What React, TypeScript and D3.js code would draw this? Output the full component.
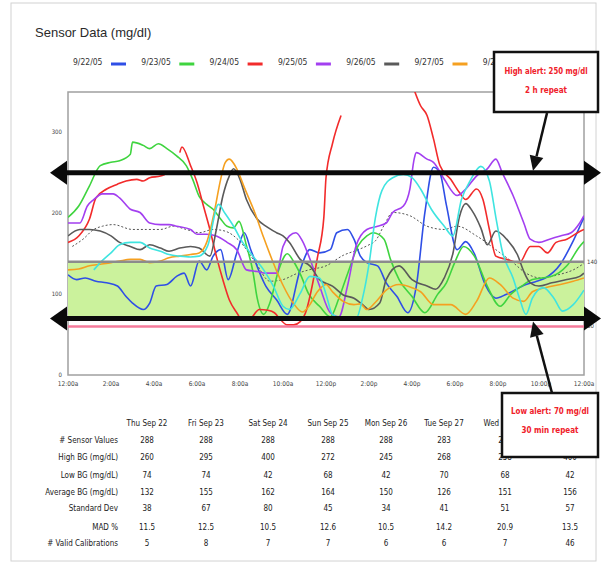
import React, { useRef, useEffect } from "react";
import * as d3 from "d3";

type Pt = [number, number | null];

// legend / series
const dates = ["9/22/05", "9/23/05", "9/24/05", "9/25/05", "9/26/05", "9/27/05", "9/28/05"];
const colors = ["#2f4fe6", "#3fd43f", "#f22b2b", "#a33ff0", "#5a5a5a", "#f5a020", "#3fe4e0"];

const sep22: Pt[] = [[0,124],[0.4,118],[0.8,120],[1.3,116],[1.8,114],[2.3,110],[2.7,97],[3.0,89],[3.5,81],[3.8,89],[4.1,110],[4.6,112],[5.05,122],[5.4,126],[5.7,110],[6.1,141],[6.45,130],[6.75,147],[7.1,155],[7.45,118],[7.85,151],[8.2,176],[8.5,155],[9.2,110],[9.7,93],[10.2,75],[10.8,130],[11.25,155],[11.7,151],[12.2,155],[12.5,176],[13,180],[13.3,168],[13.6,147],[13.9,139],[14.4,135],[14.8,114],[15.3,97],[15.8,77],[16.2,110],[16.6,201],[17,257],[17.3,250],[17.6,210],[18.1,155],[18.5,165],[18.9,150],[19.4,112],[19.9,95],[20.4,100],[21.3,112],[21.8,116],[22.2,120],[22.9,137],[23.5,166],[24,195]];
const sep23: Pt[] = [[0,195],[0.5,209],[1,234],[1.5,259],[2,263],[2.4,265],[2.9,273],[3.0,288],[3.5,284],[3.8,280],[4.2,286],[4.6,280],[5.05,271],[5.5,259],[5.8,242],[6.1,221],[6.45,211],[6.75,205],[7.1,193],[7.4,184],[7.7,182],[7.95,190],[8.3,160],[8.6,128],[8.8,95],[9.1,75],[9.4,90],[9.8,130],[10.2,150],[10.5,140],[10.8,125],[11.2,100],[11.7,85],[12.2,72],[12.6,95],[13.0,125],[13.5,160],[13.9,172],[14.2,176],[14.7,168],[15,143],[15.4,118],[16,97],[16.6,77],[17.2,100],[17.6,114],[18.0,140],[18.4,159],[18.9,147],[19.5,110],[20.1,85],[20.6,100],[21.1,110],[21.6,118],[22.5,122],[23.2,135],[23.8,159],[24,165]];
const sep24: Pt[] = [[0,164],[0.5,172],[1,193],[1.3,219],[1.8,230],[2.3,236],[2.7,240],[3.2,242],[3.5,240],[3.8,244],[4.3,246],[4.5,248],[4.8,null],[5.2,275],[5.3,282],[5.7,259],[6,238],[6.3,209],[6.6,180],[6.9,147],[7.2,118],[7.5,93],[7.85,77],[8.1,68],[8.4,68],[8.9,81],[9.3,80],[9.6,77],[9.9,68],[10.2,62],[10.5,62],[10.8,66],[11.1,81],[11.3,103],[11.6,145],[11.9,195],[12.0,244],[12.3,286],[12.7,321],[13.0,null],[16.0,360],[16.4,333],[16.7,321],[17,292],[17.3,259],[17.8,242],[18.2,226],[18.5,217],[19,230],[19.3,217],[19.6,180],[19.9,147],[20.4,143],[21,139],[21.5,159],[21.9,159],[22.3,151],[22.7,164],[23.2,168],[23.7,176],[24,180]];
const sep25: Pt[] = [[0,188],[0.55,188],[0.9,209],[1.2,217],[1.6,224],[2.1,224],[2.4,219],[2.9,205],[3.35,201],[3.8,188],[4.3,186],[4.7,186],[5.05,184],[5.7,180],[6,174],[6.45,174],[6.9,172],[7.4,164],[7.85,155],[8.3,130],[8.8,128],[9.2,126],[9.7,126],[10,159],[10.3,172],[10.6,176],[10.9,166],[11.3,140],[11.7,110],[12.2,77],[12.6,72],[13.0,110],[13.4,160],[13.9,180],[14.4,184],[14.8,188],[15.1,201],[15.6,209],[15.9,230],[16.1,267],[16.2,275],[16.7,267],[17,263],[17.5,242],[18.1,222],[18.5,230],[19,246],[19.5,255],[19.9,267],[20.2,250],[20.7,222],[21.2,188],[21.5,168],[21.9,164],[22.4,168],[22.9,172],[23.4,176],[23.8,188],[24,197]];
const sep26: Pt[] = [[0,172],[0.55,180],[1,180],[1.5,178],[2,172],[2.4,164],[2.9,159],[3.35,155],[3.8,161],[4.3,157],[4.7,153],[5.2,157],[5.7,159],[6.1,157],[6.6,147],[6.9,180],[7.2,221],[7.5,246],[7.7,255],[8,242],[8.3,217],[8.8,193],[9.2,184],[9.7,176],[10,172],[10.3,164],[10.8,143],[11.25,135],[11.7,118],[12.3,110],[12.8,99],[13.3,95],[13.7,87],[14,81],[14.5,89],[14.8,118],[15.4,135],[16,118],[16.7,110],[17.1,106],[17.5,120],[17.9,150],[18.2,195],[18.5,212],[18.8,203],[19.2,182],[19.5,161],[19.9,178],[20.4,168],[20.9,149],[21.2,128],[21.5,114],[21.9,110],[22.5,114],[23.2,118],[23.8,122],[24,126]];
const sep27: Pt[] = [[0,130],[0.5,131],[1,135],[1.5,137],[2,139],[2.4,141],[2.9,143],[3.35,143],[3.8,139],[4.3,141],[4.7,145],[5.2,147],[5.7,149],[6.1,151],[6.45,164],[6.8,201],[7.1,242],[7.3,262],[7.5,267],[7.85,255],[8.2,232],[8.7,200],[9.1,170],[9.5,142],[10,111],[10.5,88],[10.9,78],[11.2,85],[11.6,103],[12,112],[12.3,103],[12.8,91],[13.3,87],[13.6,88],[13.9,81],[14.3,90],[14.8,105],[15.4,112],[16,108],[16.4,103],[17,87],[17.8,87],[18.5,75],[19,91],[19.6,120],[20.1,112],[20.7,95],[21.2,91],[21.6,103],[22.2,108],[22.9,112],[23.5,116],[24,120]];
const sep28: Pt[] = [[1.2,130],[1.5,139],[2,151],[2.4,161],[2.9,164],[3.35,164],[3.8,157],[4.3,153],[4.7,149],[5.2,147],[5.7,146],[6.1,147],[6.5,160],[7.0,211],[7.3,200],[7.7,184],[8.1,165],[8.6,147],[9.1,130],[9.55,110],[10,85],[10.3,81],[10.8,101],[11.25,122],[11.7,120],[12,100],[12.3,75],[12.8,70],[13.4,70],[13.7,95],[14,137],[14.3,195],[14.6,228],[15.1,244],[15.6,248],[16,244],[16.4,230],[16.9,205],[17.5,184],[17.9,172],[18.3,217],[18.7,240],[19.2,258],[19.6,240],[19.9,195],[20.2,153],[20.7,120],[21,95],[21.3,75],[21.6,95],[22.1,108],[22.6,95],[23,79],[23.5,87],[24,105]];
const average: Pt[] = [[0.2,159],[0.7,168],[1.2,180],[1.6,184],[2.1,186],[3,180],[3.65,180],[4.3,180],[4.9,184],[5.5,180],[6.1,176],[6.75,180],[7.3,178],[8,165],[8.7,140],[9.4,116],[10,118],[10.6,125],[11.2,130],[12,135],[12.8,148],[13.5,155],[14,161],[14.3,166],[14.7,185],[15.1,201],[15.9,197],[16.7,184],[17.5,180],[18.1,184],[19,172],[20.1,151],[20.7,139],[21.3,126],[22,120],[22.8,124],[23.5,130],[24,138]];
const seriesData = [sep22, sep23, sep24, sep25, sep26, sep27, sep28];

// axis
const yTicks = [0, 100, 200, 300];
const hourTicks = [0, 2, 4, 6, 8, 10, 12, 14, 16, 18, 20, 22, 24];
const hourLabels = ["12:00a", "2:00a", "4:00a", "6:00a", "8:00a", "10:00a", "12:00p", "2:00p", "4:00p", "6:00p", "8:00p", "10:00p", "12:00a"];
const targetLow = 70;
const targetHigh = 140;
const lowLimit = 60;
const highAlert = 250;
const lowAlert = 70;

// table (last column header sits under the low-alert box)
const dayHeaders = ["Thu Sep 22", "Fri Sep 23", "Sat Sep 24", "Sun Sep 25", "Mon Sep 26", "Tue Sep 27", "Wed Sep 28"];
const rowLabels = ["# Sensor Values", "High BG (mg/dL)", "Low BG (mg/dL)", "Average BG (mg/dL)", "Standard Dev", "MAD %", "# Valid Calibrations"];
const sensorValues = ["288", "288", "288", "288", "288", "283", "288", "2011"];
const highBG = ["260", "295", "400", "272", "245", "268", "258", "400"];
const lowBG = ["74", "74", "42", "68", "42", "70", "68", "42"];
const avgBG = ["132", "155", "162", "164", "150", "126", "151", "156"];
const stdDev = ["38", "67", "80", "45", "34", "41", "51", "57"];
const madPct = ["11.5", "12.5", "10.5", "12.6", "10.5", "14.2", "20.9", "13.5"];
const validCal = ["5", "8", "7", "7", "6", "6", "7", "46"];
const tableRows = [sensorValues, highBG, lowBG, avgBG, stdDev, madPct, validCal];

const narrow = "'Liberation Sans Narrow', 'DejaVu Sans Condensed', 'Liberation Sans', sans-serif";

const SensorChart = () => {
  const svgRef = useRef<SVGSVGElement>(null);

  useEffect(() => {
    const svg = d3.select(svgRef.current);
    svg.selectAll("*").remove();

    const x = d3.scaleLinear().domain([0, 24]).range([68, 584]);
    const y = d3.scaleLinear().domain([0, 350]).range([375, 92]);

    // outer frame
    svg.append("rect").attr("x", 11).attr("y", 3).attr("width", 585).attr("height", 558)
      .attr("fill", "white").attr("stroke", "#d2d2d2");

    svg.append("text").attr("x", 35).attr("y", 37).text("Sensor Data (mg/dl)")
      .attr("font-family", "'Liberation Sans', Arial, sans-serif").attr("font-size", 13)
      .attr("fill", "#2a2a2a");

    // legend
    const legend = svg.append("g");
    dates.forEach((d, i) => {
      const lx = 73 + i * 68.3;
      legend.append("text").attr("x", lx).attr("y", 65).text(d)
        .attr("font-family", narrow).attr("font-size", 8.5).attr("fill", "#333");
      legend.append("line").attr("x1", lx + 38).attr("x2", lx + 53).attr("y1", 64).attr("y2", 64)
        .attr("stroke", colors[i]).attr("stroke-width", 3);
    });

    // plot area
    svg.append("rect").attr("x", x(0)).attr("y", y(350))
      .attr("width", x(24) - x(0)).attr("height", y(0) - y(350))
      .attr("fill", "white").attr("stroke", "#a0a0a0").attr("stroke-width", 1.5);

    svg.append("clipPath").attr("id", "plotclip").append("rect")
      .attr("x", x(0)).attr("y", y(350)).attr("width", x(24) - x(0)).attr("height", y(0) - y(350));

    svg.append("rect").attr("x", x(0)).attr("y", y(targetHigh))
      .attr("width", x(24) - x(0)).attr("height", y(targetLow) - y(targetHigh))
      .attr("fill", "#cbf29c");

    // y labels
    svg.append("g").selectAll("text").data(yTicks).enter().append("text")
      .attr("x", x(0) - 6).attr("y", (d) => y(d) + 2).attr("text-anchor", "end")
      .attr("font-family", narrow).attr("font-size", 6).attr("fill", "#444")
      .text((d) => d);
    svg.append("g").selectAll("text").data([targetHigh, lowLimit]).enter().append("text")
      .attr("x", x(24) + 3).attr("y", (d) => y(d) + 2)
      .attr("font-family", narrow).attr("font-size", 6).attr("fill", "#444")
      .text((d) => d);

    // x labels
    svg.append("g").selectAll("text").data(hourTicks).enter().append("text")
      .attr("x", (d) => x(d)).attr("y", y(0) + 11).attr("text-anchor", "middle")
      .attr("font-family", narrow).attr("font-size", 6.5).attr("fill", "#444")
      .text((d, i) => hourLabels[i]);

    const line = d3.line<Pt>()
      .defined((d) => d[1] !== null)
      .x((d) => x(d[0]))
      .y((d) => y(d[1] as number))
      .curve(d3.curveMonotoneX);

    const plot = svg.append("g").attr("clip-path", "url(#plotclip)");

    plot.append("path").attr("d", line(average)).attr("fill", "none")
      .attr("stroke", "#555").attr("stroke-width", 1).attr("stroke-dasharray", "2,2");

    seriesData.forEach((s, i) => {
      plot.append("path").attr("d", line(s)).attr("fill", "none")
        .attr("stroke", colors[i]).attr("stroke-width", 1.6);
    });

    // target / limit lines
    svg.append("line").attr("x1", x(0)).attr("x2", x(24)).attr("y1", y(targetHigh)).attr("y2", y(targetHigh))
      .attr("stroke", "#8c8c8c").attr("stroke-width", 2.5);
    svg.append("line").attr("x1", x(0)).attr("x2", x(24)).attr("y1", y(lowLimit)).attr("y2", y(lowLimit))
      .attr("stroke", "#f47b9b").attr("stroke-width", 2.5);

    // alert arrows across the plot
    [highAlert, lowAlert].forEach((v) => {
      const yy = y(v);
      svg.append("line").attr("x1", x(0) - 4).attr("x2", x(24) + 4).attr("y1", yy).attr("y2", yy)
        .attr("stroke", "#0a0a0a").attr("stroke-width", 5);
      svg.append("path").attr("d", `M${x(0) - 18},${yy}L${x(0) - 1},${yy - 12}L${x(0) - 1},${yy + 12}Z`).attr("fill", "#0a0a0a");
      svg.append("path").attr("d", `M${x(24) + 17},${yy}L${x(24)},${yy - 12}L${x(24)},${yy + 12}Z`).attr("fill", "#0a0a0a");
    });

    // table
    const table = svg.append("g").attr("font-family", narrow).attr("font-size", 8).attr("fill", "#222");
    const colX = [147, 206, 268, 328, 386, 444, 505, 570];
    const rowY = [443, 460, 478, 495, 511, 530, 546];
    dayHeaders.forEach((h, i) => {
      table.append("text").attr("x", colX[i]).attr("y", 426).attr("text-anchor", "middle").text(h);
    });
    rowLabels.forEach((r, j) => {
      table.append("text").attr("x", 118).attr("y", rowY[j]).attr("text-anchor", "end").text(r);
      tableRows[j].forEach((v, i) => {
        table.append("text").attr("x", colX[i]).attr("y", rowY[j]).attr("text-anchor", "middle").text(v);
      });
    });

    // callout boxes
    const pointer = (x1: number, y1: number, tx: number, ty: number) => {
      const dx = tx - x1, dy = ty - y1;
      const len = Math.hypot(dx, dy);
      const ux = dx / len, uy = dy / len;
      const bx = tx - ux * 15, by = ty - uy * 15;
      svg.append("line").attr("x1", x1).attr("y1", y1).attr("x2", bx).attr("y2", by)
        .attr("stroke", "#111").attr("stroke-width", 2.5);
      svg.append("path")
        .attr("d", `M${tx},${ty}L${bx + uy * 7},${by - ux * 7}L${bx - uy * 7},${by + ux * 7}Z`)
        .attr("fill", "#111");
    };

    const callout = (bx: number, by: number, bw: number, bh: number, lines: string[], widths: number[], ys: number[]) => {
      svg.append("rect").attr("x", bx).attr("y", by).attr("width", bw).attr("height", bh)
        .attr("fill", "white").attr("stroke", "#111").attr("stroke-width", 2.5);
      lines.forEach((t, i) => {
        svg.append("text").attr("x", bx + bw / 2).attr("y", ys[i]).attr("text-anchor", "middle")
          .attr("font-family", narrow).attr("font-size", 9.5).attr("font-weight", "bold")
          .attr("fill", "#f0202a").attr("textLength", widths[i]).attr("lengthAdjust", "spacingAndGlyphs")
          .text(t);
      });
    };

    pointer(547, 113, 533, y(highAlert) - 2);
    callout(494, 52, 104, 60, ["High alert: 250 mg/dl", "2 h repeat"], [83, 42], [74, 93]);
    pointer(552, 393, 533, y(lowAlert) + 3);
    callout(502, 393, 96, 64, ["Low alert: 70 mg/dl", "30 min repeat"], [78, 57], [414, 433]);

    return () => {
      svg.selectAll("*").remove();
    };
  }, []);

  return <svg ref={svgRef} width={607} height={570} style={{ position: "absolute", left: 0, top: 0 }} />;
};

export default function App() {
  return <SensorChart />;
}
